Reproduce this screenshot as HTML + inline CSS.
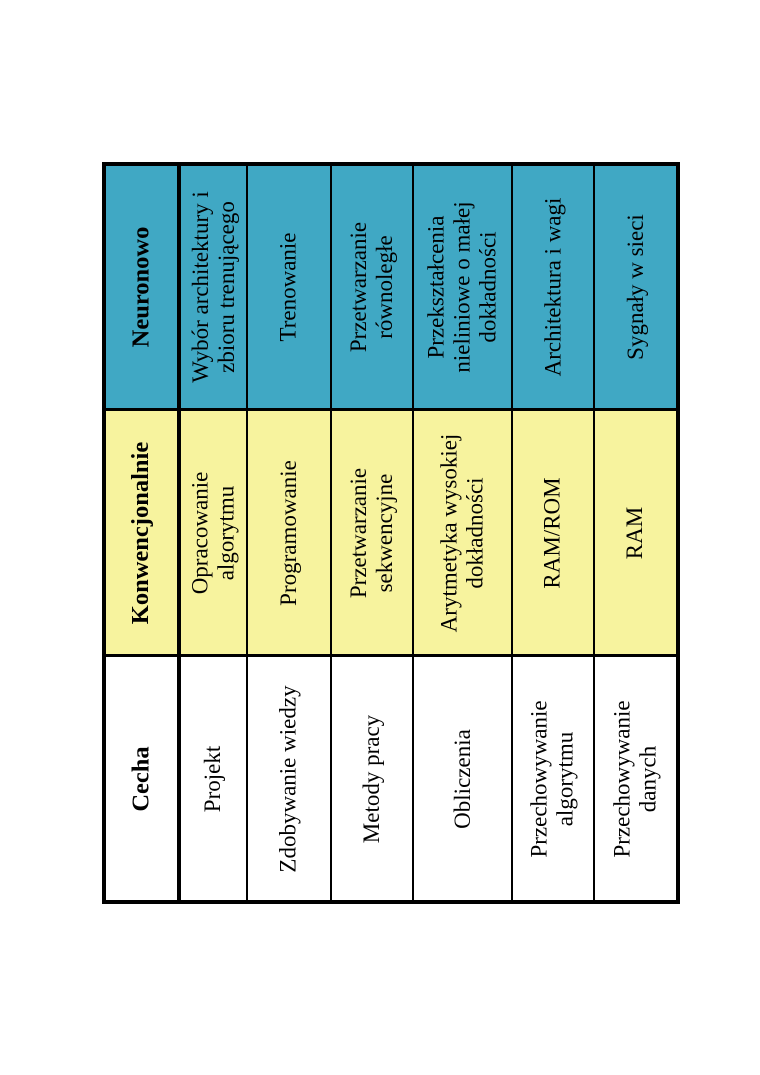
<!DOCTYPE html>
<html><head><meta charset="utf-8"><style>
body{margin:0;background:#fff;width:760px;height:1075px;position:relative;overflow:hidden;font-family:"Liberation Serif",serif;}
.c{position:absolute;display:flex;align-items:center;justify-content:center;box-sizing:border-box;}
.t{transform:rotate(-90deg);white-space:nowrap;text-align:center;font-size:23px;line-height:26px;color:#000;}
.b{font-weight:bold;font-size:24.5px;}
.bl{background:#40a8c4}.ye{background:#f7f39e}.wh{background:#fff}
.v{position:absolute;background:#000;}
</style></head><body>
<div class="c bl" style="left:104px;top:164px;width:574px;height:246px"></div>
<div class="c ye" style="left:104px;top:410px;width:574px;height:246px"></div>
<div class="c wh" style="left:104px;top:656px;width:574px;height:246px"></div>
<div class="v" style="left:102px;top:162px;width:4px;height:742px"></div>
<div class="v" style="left:676px;top:162px;width:4px;height:742px"></div>
<div class="v" style="left:102px;top:162px;width:578px;height:4px"></div>
<div class="v" style="left:102px;top:900px;width:578px;height:4px"></div>
<div class="v" style="left:177px;top:162px;width:4px;height:742px"></div>
<div class="v" style="left:102px;top:408px;width:578px;height:3px"></div>
<div class="v" style="left:102px;top:654px;width:578px;height:3px"></div>
<div class="v" style="left:246px;top:162px;width:2px;height:742px"></div>
<div class="v" style="left:330px;top:162px;width:2px;height:742px"></div>
<div class="v" style="left:412px;top:162px;width:2px;height:742px"></div>
<div class="v" style="left:511px;top:162px;width:2px;height:742px"></div>
<div class="v" style="left:593px;top:162px;width:2px;height:742px"></div>
<div class="c" style="left:104px;top:164px;width:75px;height:246px"><div class="t b">Neuronowo</div></div>
<div class="c" style="left:180px;top:164px;width:67px;height:246px"><div class="t">Wybór architektury i<br>zbioru trenującego</div></div>
<div class="c" style="left:247px;top:164px;width:84px;height:246px"><div class="t">Trenowanie</div></div>
<div class="c" style="left:331px;top:164px;width:82px;height:246px"><div class="t">Przetwarzanie<br>równoległe</div></div>
<div class="c" style="left:413px;top:164px;width:99px;height:246px"><div class="t">Przekształcenia<br>nieliniowe o małej<br>dokładności</div></div>
<div class="c" style="left:512px;top:164px;width:82px;height:246px"><div class="t">Architektura i wagi</div></div>
<div class="c" style="left:594px;top:164px;width:83px;height:246px"><div class="t">Sygnały w sieci</div></div>
<div class="c" style="left:104px;top:410px;width:75px;height:246px"><div class="t b">Konwencjonalnie</div></div>
<div class="c" style="left:180px;top:410px;width:67px;height:246px"><div class="t">Opracowanie<br>algorytmu</div></div>
<div class="c" style="left:247px;top:410px;width:84px;height:246px"><div class="t">Programowanie</div></div>
<div class="c" style="left:331px;top:410px;width:82px;height:246px"><div class="t">Przetwarzanie<br>sekwencyjne</div></div>
<div class="c" style="left:413px;top:410px;width:99px;height:246px"><div class="t">Arytmetyka wysokiej<br>dokładności</div></div>
<div class="c" style="left:512px;top:410px;width:82px;height:246px"><div class="t">RAM/ROM</div></div>
<div class="c" style="left:594px;top:410px;width:83px;height:246px"><div class="t">RAM</div></div>
<div class="c" style="left:104px;top:656px;width:75px;height:246px"><div class="t b">Cecha</div></div>
<div class="c" style="left:180px;top:656px;width:67px;height:246px"><div class="t">Projekt</div></div>
<div class="c" style="left:247px;top:656px;width:84px;height:246px"><div class="t">Zdobywanie wiedzy</div></div>
<div class="c" style="left:331px;top:656px;width:82px;height:246px"><div class="t">Metody pracy</div></div>
<div class="c" style="left:413px;top:656px;width:99px;height:246px"><div class="t">Obliczenia</div></div>
<div class="c" style="left:512px;top:656px;width:82px;height:246px"><div class="t">Przechowywanie<br>algorytmu</div></div>
<div class="c" style="left:594px;top:656px;width:83px;height:246px"><div class="t">Przechowywanie<br>danych</div></div>
</body></html>
